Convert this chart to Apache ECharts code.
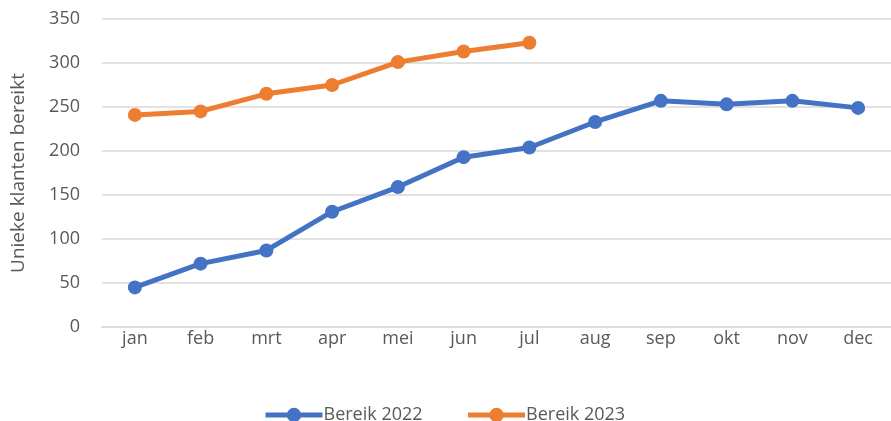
<!DOCTYPE html>
<html>
<head>
<meta charset="utf-8">
<script src="https://cdn.jsdelivr.net/npm/echarts@6/dist/echarts.min.js"></script>
<style>
  html, body { margin: 0; padding: 0; background: #fff; }
  #chart { width: 891px; height: 421px; }
</style>
</head>
<body>
<div id="chart"></div>
<script>
var months = ['jan', 'feb', 'mrt', 'apr', 'mei', 'jun', 'jul', 'aug', 'sep', 'okt', 'nov', 'dec'];
var bereik2022 = [45, 72, 87, 131, 159, 193, 204, 233, 257, 253, 257, 249];
var bereik2023 = [241, 245, 265, 275, 301, 313, 323];

var myChart = echarts.init(document.getElementById('chart'));
var font = 'Open Sans';

var lineSeries = function (name, data, color) {
    return {
        name: name,
        type: 'line',
        data: data,
        symbol: 'circle',
        symbolSize: 14,
        lineStyle: { color: color, width: 5 },
        itemStyle: { color: color },
        emphasis: { disabled: true }
    };
};

var option = {
    backgroundColor: '#fff',
    animation: false,
    textStyle: { fontFamily: font },
    grid: { left: 102, top: 19, right: -9, bottom: 94, containLabel: false },
    legend: {
        left: 258,
        top: 401,
        itemWidth: 57,
        itemHeight: 18,
        itemGap: 43,
        lineStyle: { width: 5 },
        textStyle: { color: '#595959', fontSize: 18, fontFamily: font, padding: [0, 0, 0, -4] },
        data: ['Bereik 2022', 'Bereik 2023']
    },
    xAxis: {
        type: 'category',
        data: months,
        boundaryGap: true,
        axisLine: { show: true, lineStyle: { color: '#d9d9d9', width: 1.5 } },
        axisTick: { show: false },
        axisLabel: { color: '#595959', fontSize: 18, margin: 3, fontFamily: font }
    },
    yAxis: {
        type: 'value',
        min: 0,
        max: 350,
        interval: 50,
        name: 'Unieke klanten bereikt',
        nameLocation: 'middle',
        nameRotate: 90,
        nameGap: 74,
        nameTextStyle: { color: '#595959', fontSize: 19, fontFamily: font },
        axisLine: { show: false },
        axisTick: { show: false },
        axisLabel: { color: '#595959', fontSize: 18, margin: 22, fontFamily: font },
        splitLine: { lineStyle: { color: '#d9d9d9', width: 1.5 } }
    },
    series: [
        lineSeries('Bereik 2022', bereik2022, '#4472c4'),
        lineSeries('Bereik 2023', bereik2023, '#ed7d31')
    ]
};

myChart.setOption(option);
</script>
</body>
</html>
